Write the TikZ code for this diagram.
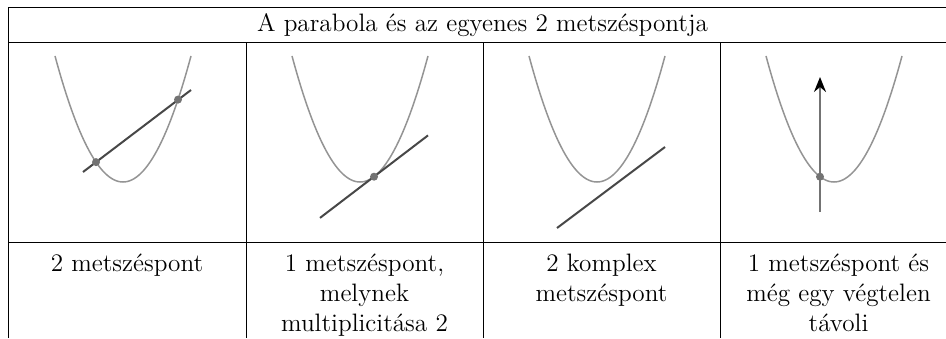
\documentclass[tikz,border=0pt]{standalone}
\usepackage{tikz}
\usetikzlibrary{arrows.meta}

\begin{document}
\begin{tikzpicture}[x=0.5pt, y=-0.5pt,
  every node/.style={font=\fontsize{12.6}{15}\selectfont, inner sep=0pt},
  parab/.style={black!42, line width=0.75pt},
  egyenes/.style={black!72, line width=1pt},
  metsz/.style={fill=black!55},
  cella/.style={align=center, anchor=base}]
  \useasboundingbox (0,0) rectangle (946,338);
  % Table rules
  \draw (8,338) -- (8,7) -- (946,7);
  \draw (8,42) -- (946,42);
  \draw (8,242) -- (946,242);
  \foreach \cx in {246,483,720}
    \draw (\cx,42) -- (\cx,338);
  % Header
  \node[cella] (cim) at (482.5,31) {A parabola és az egyenes 2 metszéspontja};
  % Parabolas
  \foreach \ox in {0,237,474,711}
    \draw[parab] plot[domain=-68:68, samples=61] ({\ox+123+\x}, {182-0.02725*\x*\x});
  % 2 metszespont
  \coordinate (a1) at (83,172);
  \coordinate (a2) at (191,90);
  \draw[egyenes] (a1) -- (a2);
  \coordinate (m1) at (96,162.1);
  \coordinate (m2) at (178,99.6);
  \fill[metsz] (m1) circle (2pt);
  \fill[metsz] (m2) circle (2pt);
  % Erinto
  \coordinate (b1) at (320,217.9);
  \coordinate (b2) at (428,135.4);
  \draw[egyenes] (b1) -- (b2);
  \coordinate (m3) at (374,176.7);
  \fill[metsz] (m3) circle (2pt);
  % Nincs valos metszespont
  \coordinate (c1) at (557,228);
  \coordinate (c2) at (665,147);
  \draw[egyenes] (c1) -- (c2);
  % Fuggoleges egyenes
  \coordinate (d1) at (820,212);
  \coordinate (d2) at (820,77);
  \draw[black!55, line width=1pt, -{Stealth[black, length=7.5pt, width=6pt, inset=2.5pt]}] (d1) -- (d2);
  \coordinate (m4) at (820,176.7);
  \fill[metsz] (m4) circle (2pt);
  % Labels (base = last line)
  \node[cella] (szovegA) at (127,271.7) {2 metszéspont};
  \node[cella] (szovegB) at (364.5,331.7) {1 metszéspont,\\melynek\\multiplicitása 2};
  \node[cella] (szovegC) at (601.5,301.7) {2 komplex\\metszéspont};
  \node[cella] (szovegD) at (838.5,331.7) {1 metszéspont és\\még egy végtelen\\távoli};
\end{tikzpicture}
\end{document}
